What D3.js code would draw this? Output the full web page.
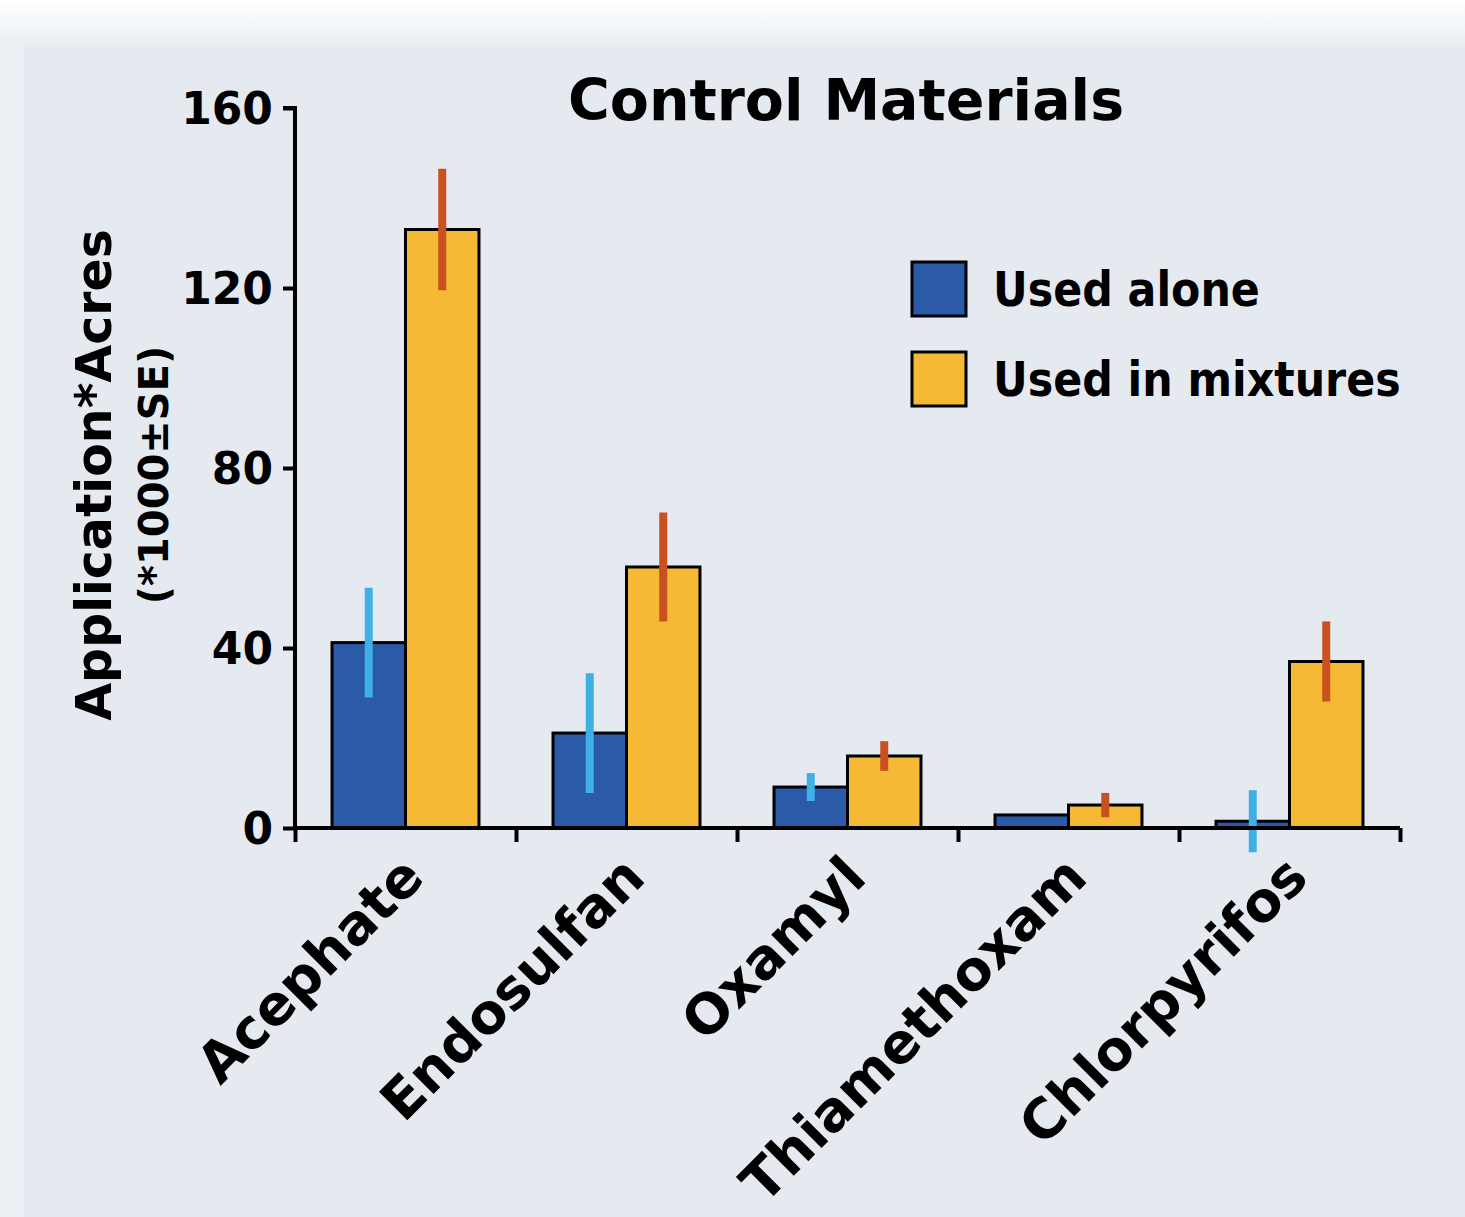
<!DOCTYPE html>
<html>
<head>
<meta charset="utf-8">
<script src="https://cdn.jsdelivr.net/npm/d3@7"></script>
<style>
  body { margin: 0; background: #e5eaf1; }
  svg text { font-family: "DejaVu Sans", sans-serif; font-weight: bold; fill: #000; }
  svg text.narrow { font-family: "DejaVu Sans Condensed", "DejaVu Sans", sans-serif; font-stretch: condensed; }
</style>
</head>
<body>
<svg id="chart"></svg>
<script>
// data (application*acres, x1000, mean and SE)
const categories = ["Acephate", "Endosulfan", "Oxamyl", "Thiamethoxam", "Chlorpyrifos"]
const series = ["Used alone", "Used in mixtures"]
const aloneMean = [41.2, 21.1, 9.1, 2.9, 1.5]
const aloneSE = [12.2, 13.3, 3.1, 0, 6.9]
const mixMean = [133.0, 58.0, 16.0, 5.1, 37.0]
const mixSE = [13.5, 12.1, 3.3, 2.7, 8.9]
const yTicks = [0, 40, 80, 120, 160]

// layout
const width = 1465
const height = 1217
const margin = { left: 295, right: 65, top: 108, bottom: 389 }

const barColor = { "Used alone": "#2b5aa8", "Used in mixtures": "#f6b935" }
const errColor = { "Used alone": "#3fb0e6", "Used in mixtures": "#c9501f" }

const svg = d3.select("#chart")
    .attr("width", width)
    .attr("height", height)

// background, with the lighter strip at the top and left like the scan
const defs = svg.append("defs")
const grad = defs.append("linearGradient").attr("id", "topfade").attr("x1", 0).attr("x2", 0).attr("y1", 0).attr("y2", 1)
grad.append("stop").attr("offset", "0%").attr("stop-color", "#ffffff")
grad.append("stop").attr("offset", "100%").attr("stop-color", "#e9edf3")
svg.append("rect").attr("width", width).attr("height", height).attr("fill", "#e5eaf1")
svg.append("rect").attr("width", width).attr("height", 46).attr("fill", "url(#topfade)")
svg.append("rect").attr("y", 46).attr("width", 24).attr("height", height - 46).attr("fill", "#ebeff4")

const data = categories.map((c, i) => ({
    key: c,
    values: [
        { serie: series[0], mean: aloneMean[i], se: aloneSE[i] },
        { serie: series[1], mean: mixMean[i], se: mixSE[i] }
    ]
}))

const x = d3.scaleBand()
    .domain(categories)
    .range([margin.left, width - margin.right])
    .paddingInner(0.335)
    .paddingOuter(0.1675)

const xSub = d3.scaleBand()
    .domain(series)
    .range([0, x.bandwidth()])

const xEdge = d3.scaleLinear()
    .domain([0, categories.length])
    .range([margin.left, width - margin.right])

const y = d3.scaleLinear()
    .domain([0, 160])
    .range([height - margin.bottom, margin.top])

// bars
const groups = svg.selectAll("g.cat")
    .data(data)
    .enter()
    .append("g")
    .attr("class", "cat")
    .attr("transform", d => `translate(${x(d.key)},0)`)

groups.selectAll("rect")
    .data(d => d.values)
    .enter()
    .append("rect")
    .attr("x", d => xSub(d.serie))
    .attr("y", d => y(d.mean))
    .attr("width", xSub.bandwidth())
    .attr("height", d => y(0) - y(d.mean))
    .attr("fill", d => barColor[d.serie])
    .attr("stroke", "#000")
    .attr("stroke-width", 3)

// axes
const yAxis = svg.append("g")
    .attr("transform", `translate(${margin.left},0)`)
    .call(d3.axisLeft(y).tickValues(yTicks).tickSize(12).tickPadding(10))
yAxis.select(".domain").attr("stroke-width", 4).attr("d", `M-12,${y(160)}H0V${y(0)}`)
yAxis.selectAll(".tick line").attr("stroke-width", 4)
yAxis.selectAll(".tick text").attr("font-size", 44).attr("dy", "0.36em")

const xAxis = svg.append("g")
    .attr("transform", `translate(0,${y(0)})`)
    .call(d3.axisBottom(xEdge).ticks(categories.length).tickSize(14).tickFormat(""))
xAxis.select(".domain").attr("stroke-width", 4).attr("d", `M${margin.left},0H${width - margin.right}`)
xAxis.selectAll(".tick line").attr("stroke-width", 4)

// category names, turned 45 degrees, ending just right of the band centre
svg.append("g")
    .selectAll("text")
    .data(categories)
    .enter()
    .append("text")
    .attr("text-anchor", "end")
    .attr("font-size", 55)
    .attr("transform", d => `translate(${x(d) + x.bandwidth() / 2 + 21},${y(0) + 52}) rotate(-45)`)
    .text(d => d)

// error bars on top of everything (the chlorpyrifos one runs over the axis)
groups.selectAll("line.err")
    .data(d => d.values.filter(v => v.se > 0))
    .enter()
    .append("line")
    .attr("class", "err")
    .attr("x1", d => xSub(d.serie) + xSub.bandwidth() / 2)
    .attr("x2", d => xSub(d.serie) + xSub.bandwidth() / 2)
    .attr("y1", d => y(d.mean + d.se))
    .attr("y2", d => y(d.mean - d.se))
    .attr("stroke", d => errColor[d.serie])
    .attr("stroke-width", 8)

// title
svg.append("text")
    .attr("x", 846)
    .attr("y", 120)
    .attr("text-anchor", "middle")
    .attr("font-size", 57)
    .text("Control Materials")

// y axis title
const yTitle = svg.append("g").attr("transform", "translate(111,475) rotate(-90)")
yTitle.append("text")
    .attr("text-anchor", "middle")
    .attr("font-size", 49)
    .text("Application*Acres")
yTitle.append("text")
    .attr("text-anchor", "middle")
    .attr("y", 57)
    .attr("font-size", 40)
    .text("(*1000±SE)")

// legend
const legend = svg.append("g")
    .selectAll("g")
    .data(series)
    .enter()
    .append("g")
    .attr("transform", (d, i) => `translate(912,${262 + i * 90})`)

legend.append("rect")
    .attr("width", 54)
    .attr("height", 54)
    .attr("fill", d => barColor[d])
    .attr("stroke", "#000")
    .attr("stroke-width", 3)

legend.append("text")
    .attr("class", "narrow")
    .attr("x", 81)
    .attr("y", 44)
    .attr("font-size", 47.5)
    .text(d => d)
</script>
</body>
</html>
